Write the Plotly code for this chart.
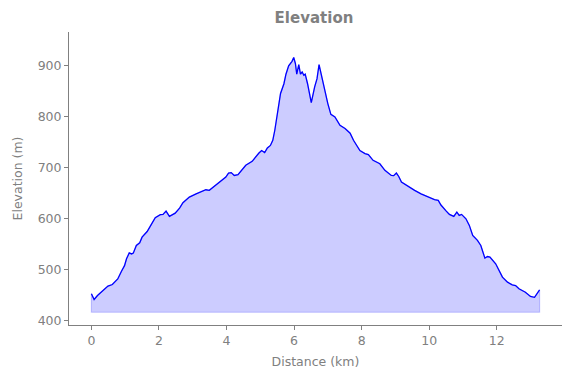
import plotly.graph_objects as go

distance_km = [0.0, 0.08, 0.18, 0.32, 0.49, 0.62, 0.78, 0.89, 0.98, 1.04, 1.12, 1.19, 1.24, 1.33, 1.43,
               1.5, 1.65, 1.74, 1.89, 2.04, 2.12, 2.21, 2.31, 2.48, 2.61, 2.71, 2.79, 2.9, 3.1, 3.29,
               3.39, 3.49, 3.74, 3.98, 4.06, 4.14, 4.23, 4.34, 4.57, 4.76, 4.96, 5.04, 5.13, 5.21,
               5.3, 5.37, 5.43, 5.5, 5.6, 5.7, 5.76, 5.84, 5.94, 5.99, 6.04, 6.08, 6.14, 6.19, 6.24,
               6.29, 6.33, 6.4, 6.46, 6.51, 6.61, 6.68, 6.74, 6.82, 6.92, 7.0, 7.09, 7.21, 7.36,
               7.51, 7.66, 7.76, 7.95, 8.1, 8.2, 8.34, 8.54, 8.69, 8.88, 8.95, 9.03, 9.1, 9.18,
               9.37, 9.57, 9.76, 9.96, 10.16, 10.27, 10.35, 10.5, 10.6, 10.73, 10.82, 10.89, 10.96,
               11.09, 11.19, 11.29, 11.43, 11.53, 11.65, 11.73, 11.8, 11.97, 12.17, 12.32, 12.46,
               12.56, 12.66, 12.85, 13.0, 13.12, 13.2, 13.27]
elevation_m = [452.8, 441.6, 449.5, 458, 468, 471, 482, 497, 508, 521.6, 533, 531, 532.6, 547.7, 553,
               564, 575, 585, 602, 608, 608.6, 615, 604.7, 611, 621, 631.6, 636, 642.6, 649, 653.8,
               657, 655.8, 669, 682, 689.8, 690.6, 685, 686.6, 705, 712.8, 729, 734, 730, 739,
               744, 754, 773.7, 800, 845.8, 865, 883.7, 900, 909, 916.5, 904.7, 883.7, 902.7, 883.7, 888,
               881.7, 883.7, 865, 845.8, 828, 858.7, 875, 902.7, 878, 849, 826, 805, 800, 783.5,
               777, 768, 754, 734, 728, 726, 714.7, 708, 695, 685, 684.6, 689.8, 683, 672,
               663.6, 655.8, 649, 642.6, 637.5, 636, 627, 615.5, 608.6, 604.7, 613, 606.7, 608.6,
               600, 587, 567.4, 557.6, 547.7, 522.8, 526, 524.8, 511.8, 485.5, 475.6, 470.5,
               469, 462.6, 456, 447.5, 446, 454, 460.7]

x_ticks = [0, 2, 4, 6, 8, 10, 12]
y_ticks = [400, 500, 600, 700, 800, 900]

base = min(elevation_m) - 25
xmin, xmax = min(distance_km), max(distance_km)
pad = (xmax - xmin) * 0.05

GRAY = "#808080"
FONT = "DejaVu Sans"

# The page body has an 8px margin, so the figure is offset by (8, 8) in the window.
W, H = 563, 370
L, R, T, B = 58, 9, 24, 53

fig = go.Figure()
fig.add_trace(go.Scatter(
    x=distance_km + [distance_km[-1], distance_km[0], distance_km[0]],
    y=elevation_m + [base, base, elevation_m[0]],
    fill="toself", fillcolor="rgba(0,0,255,0.2)",
    line=dict(color="rgba(0,0,255,0.2)", width=1.2),
    mode="lines", hoverinfo="skip", showlegend=False))
fig.add_trace(go.Scatter(
    x=distance_km, y=elevation_m, mode="lines",
    line=dict(color="#0000ff", width=1.3), showlegend=False))

axis_common = dict(showline=True, linecolor=GRAY, linewidth=1, ticks="outside", ticklen=4,
                   tickcolor=GRAY, tickwidth=1, showgrid=False, zeroline=False,
                   tickfont=dict(family=FONT, size=12.5, color=GRAY), mirror=False)

fig.update_layout(
    width=W, height=H,
    margin=dict(l=L, r=R, t=T, b=B),
    plot_bgcolor="white", paper_bgcolor="white",
    font=dict(family=FONT, size=12.5, color=GRAY),
    title=dict(text="<b>Elevation</b>", x=(L + (W - R)) / 2 / W, xanchor="center",
               y=1 - 10 / H, yanchor="middle", yref="container",
               font=dict(family=FONT, size=15, color=GRAY)),
    xaxis=dict(range=[xmin - pad, xmax + pad], tickvals=x_ticks,
               title=dict(text="Distance (km)", standoff=10,
                          font=dict(family=FONT, size=12.5, color=GRAY)), **axis_common),
    yaxis=dict(range=[min(elevation_m) - 50, max(elevation_m) + 50], tickvals=y_ticks,
               title=dict(text="Elevation (m)", standoff=12,
                          font=dict(family=FONT, size=12.5, color=GRAY)), **axis_common),
)

fig.write_html("out.html")
